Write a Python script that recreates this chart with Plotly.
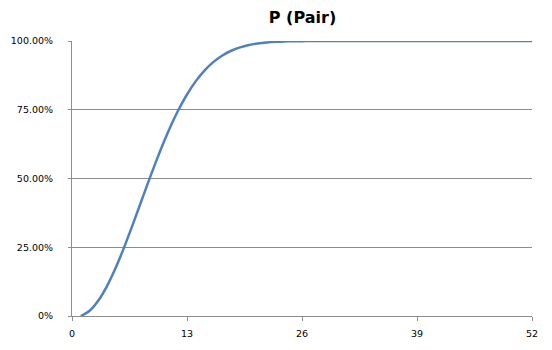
import plotly.graph_objects as go

cards = list(range(1, 53))
p_pair = [0.0, 0.0192, 0.0570, 0.1114, 0.1797, 0.2586, 0.3441, 0.4324, 0.5197, 0.6029,
          0.6792, 0.7471, 0.8055, 0.8541, 0.8934, 0.9241, 0.9475, 0.9646, 0.9769, 0.9853,
          0.9910, 0.9946, 0.9969, 0.9983, 0.9991, 0.9995, 0.9998, 0.9999, 1.0, 1.0,
          1.0, 1.0, 1.0, 1.0, 1.0, 1.0, 1.0, 1.0, 1.0, 1.0,
          1.0, 1.0, 1.0, 1.0, 1.0, 1.0, 1.0, 1.0, 1.0, 1.0,
          1.0, 1.0]
x_ticks = [0, 13, 26, 39, 52]
y_ticks = [0, 0.25, 0.5, 0.75, 1.0]
y_labels = ["0%", "25.00%", "50.00%", "75.00%", "100.00%"]

fig = go.Figure()
fig.add_trace(go.Scatter(x=cards, y=p_pair, mode="lines",
                         line=dict(color="#4F81BD", width=2.5, shape="spline", smoothing=0.6),
                         hoverinfo="x+y"))

fig.update_layout(
    width=552, height=350,
    margin=dict(l=72, r=20, t=41, b=34),
    paper_bgcolor="white", plot_bgcolor="white",
    showlegend=False,
    title=dict(text="<b>P (Pair)</b>", x=0.548, xanchor="center", y=0.95, yanchor="middle",
               font=dict(family="DejaVu Sans", size=16, color="black")),
    font=dict(family="DejaVu Sans", size=9.5, color="black"),
)
fig.update_xaxes(range=[0, 52], tickvals=x_ticks, ticktext=[str(v) for v in x_ticks],
                 showgrid=False, zeroline=False, showline=True, linecolor="#8c8c8c", linewidth=1,
                 ticks="outside", ticklen=4, tickcolor="#8c8c8c", ticklabelstandoff=5,
                 tickfont=dict(size=9.5), automargin=False)
fig.update_yaxes(range=[0, 1], tickvals=y_ticks, ticktext=y_labels,
                 showgrid=True, gridcolor="#8c8c8c", gridwidth=1, zeroline=False,
                 showline=True, linecolor="#8c8c8c", linewidth=1,
                 ticks="outside", ticklen=3, tickcolor="#8c8c8c", ticklabelstandoff=13,
                 tickfont=dict(size=9.5), automargin=False)

fig.write_html("out.html")
